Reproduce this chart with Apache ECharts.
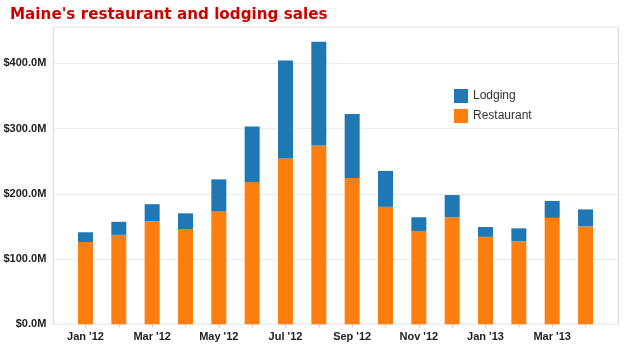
<!DOCTYPE html>
<html>
<head>
<meta charset="utf-8">
<script src="https://cdn.jsdelivr.net/npm/echarts@6/dist/echarts.min.js"></script>
<style>
html,body{margin:0;padding:0;background:#fff;}
#chart{width:627px;height:346px;}
</style>
</head>
<body>
<div id="chart"></div>
<script>
var months = ["Jan '12","Feb '12","Mar '12","Apr '12","May '12","Jun '12","Jul '12","Aug '12","Sep '12","Oct '12","Nov '12","Dec '12","Jan '13","Feb '13","Mar '13","Apr '13"];
var restaurant = [126, 137, 158, 146, 173, 218, 254, 274, 224, 180, 143, 164, 134, 127, 163, 150];
var lodging    = [15, 20, 26, 24, 49, 85, 150, 159, 98, 55, 21, 34, 15, 20, 26, 26];
var yTicks = [0, 100, 200, 300, 400];
var yMax = 455;

var chart = echarts.init(document.getElementById('chart'), null, {renderer:'canvas'});
var labelFont = 'Liberation Sans, Arial, sans-serif';
chart.setOption({
  animation: false,
  title: {
    text: "Maine's restaurant and lodging sales",
    left: 5, top: 3,
    textStyle: {fontFamily: 'DejaVu Sans, Verdana, sans-serif', fontWeight: 'bold', fontSize: 15.2, color: '#cc0000'}
  },
  legend: {
    orient: 'vertical', left: 449, top: 84,
    itemWidth: 14, itemHeight: 14, itemGap: 6,
    icon: 'rect',
    data: ['Lodging', 'Restaurant'],
    textStyle: {fontFamily: labelFont, fontSize: 12, color: '#333'}
  },
  grid: [
    {left: 68.8, right: 24.8, top: 27.3, bottom: 21.7},
    {left: 53.3, right: 8.7, top: 27.3, bottom: 21.7, show: true, borderColor: '#d4d4d4', borderWidth: 1, backgroundColor: 'transparent', z: 0}
  ],
  xAxis: [
    {
      type: 'category', gridIndex: 0, data: months,
      axisLine: {show: false},
      axisTick: {show: true, alignWithLabel: true, interval: 0, length: 3, lineStyle: {color: '#cccccc'}},
      axisLabel: {interval: 1, margin: 7, fontFamily: labelFont, fontWeight: 'bold', fontSize: 11, color: '#222'}
    },
    {
      type: 'category', gridIndex: 1, data: months,
      axisLine: {show: false}, axisTick: {show: false}, axisLabel: {show: false}
    }
  ],
  yAxis: [
    {
      type: 'value', gridIndex: 0, min: 0, max: yMax,
      axisLine: {show: false}, axisTick: {show: false}, axisLabel: {show: false}, splitLine: {show: false}
    },
    {
      type: 'value', gridIndex: 1, min: 0, max: yMax, interval: 100,
      axisLine: {show: false}, axisTick: {show: false},
      axisLabel: {
        margin: 7, fontFamily: labelFont, fontWeight: 'bold', fontSize: 11, color: '#222',
        formatter: function (v) { return yTicks.indexOf(v) >= 0 ? '$' + v.toFixed(1) + 'M' : ''; }
      },
      splitLine: {show: true, lineStyle: {color: '#ececec', width: 1}}
    }
  ],
  series: [
    {name: 'Restaurant', type: 'bar', stack: 'total', xAxisIndex: 0, yAxisIndex: 0, barWidth: 15, data: restaurant, itemStyle: {color: '#ff7f0e'}},
    {name: 'Lodging', type: 'bar', stack: 'total', xAxisIndex: 0, yAxisIndex: 0, barWidth: 15, data: lodging, itemStyle: {color: '#1f77b4'}}
  ]
});
</script>
</body>
</html>
